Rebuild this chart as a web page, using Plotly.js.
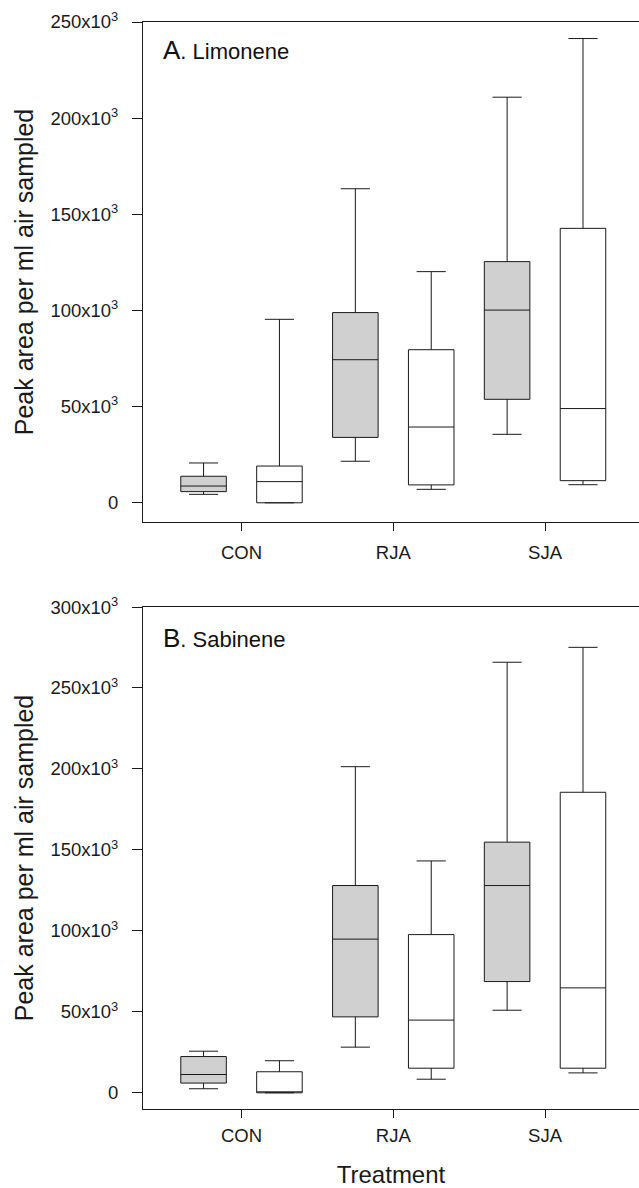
<!DOCTYPE html>
<html>
<head>
<meta charset="utf-8">
<script src="https://cdn.plot.ly/plotly-3.0.1.min.js"></script>
<style>html,body{margin:0;padding:0;background:#fff;}#chart{width:639px;height:1188px;}</style>
</head>
<body>
<div id="chart"></div>
<script>
// ---- data ----
const categories = ['CON', 'RJA', 'SJA'];

// Panel A: Limonene
const limGrayLower  = [4400, 21600, 35600];
const limGrayQ1     = [5800, 34000, 53800];
const limGrayMedian = [8700, 74400, 100200];
const limGrayQ3     = [13800, 98900, 125400];
const limGrayUpper  = [20700, 163300, 210900];

const limWhiteLower  = [0, 7000, 9400];
const limWhiteQ1     = [0, 9300, 11500];
const limWhiteMedian = [11000, 39400, 49000];
const limWhiteQ3     = [19100, 79600, 142700];
const limWhiteUpper  = [95400, 120200, 241400];

// Panel B: Sabinene
const sabGrayLower  = [2500, 28200, 51000];
const sabGrayQ1     = [6000, 46900, 68700];
const sabGrayMedian = [11300, 94900, 128000];
const sabGrayQ3     = [22400, 128000, 154800];
const sabGrayUpper  = [25700, 201400, 265900];

const sabWhiteLower  = [0, 8400, 12300];
const sabWhiteQ1     = [0, 15200, 15200];
const sabWhiteMedian = [0, 44900, 64800];
const sabWhiteQ3     = [13000, 97700, 185600];
const sabWhiteUpper  = [19800, 143200, 275100];

// tick labels
const limTickVals = [0, 50000, 100000, 150000, 200000, 250000];
const limTickText = ['0', '50x10<sup>3</sup>', '100x10<sup>3</sup>', '150x10<sup>3</sup>', '200x10<sup>3</sup>', '250x10<sup>3</sup>'];
const sabTickVals = [0, 50000, 100000, 150000, 200000, 250000, 300000];
const sabTickText = ['0', '50x10<sup>3</sup>', '100x10<sup>3</sup>', '150x10<sup>3</sup>', '200x10<sup>3</sup>', '250x10<sup>3</sup>', '300x10<sup>3</sup>'];

const panelALabel = '<span style="font-size:26px">A</span>. Limonene';
const panelBLabel = '<span style="font-size:26px">B</span>. Sabinene';
const yTitle = 'Peak area per ml air sampled';
const xTitle = 'Treatment';

// ---- styles ----
const FONT = 'Liberation Sans, Arial, Helvetica, sans-serif';
const LINE = '#1a1a1a';
const GRAY = '#d0d0d0';

function boxTrace(lower, q1, med, q3, upper, fill, xa, ya, name, agroup, ogroup) {
  return {
    type: 'box', name: name, x: categories,
    lowerfence: lower, q1: q1, median: med, q3: q3, upperfence: upper,
    fillcolor: fill, line: {color: LINE, width: 1},
    whiskerwidth: 0.64, boxpoints: false, showlegend: false,
    alignmentgroup: agroup, offsetgroup: ogroup,
    xaxis: xa, yaxis: ya, hoverinfo: 'skip'
  };
}

const data = [
  boxTrace(limGrayLower, limGrayQ1, limGrayMedian, limGrayQ3, limGrayUpper, GRAY, 'x', 'y', 'A1', 'A', 'gray'),
  boxTrace(limWhiteLower, limWhiteQ1, limWhiteMedian, limWhiteQ3, limWhiteUpper, '#ffffff', 'x', 'y', 'A2', 'A', 'white'),
  boxTrace(sabGrayLower, sabGrayQ1, sabGrayMedian, sabGrayQ3, sabGrayUpper, GRAY, 'x2', 'y2', 'B1', 'B', 'gray'),
  boxTrace(sabWhiteLower, sabWhiteQ1, sabWhiteMedian, sabWhiteQ3, sabWhiteUpper, '#ffffff', 'x2', 'y2', 'B2', 'B', 'white')
];

const xCommon = {
  type: 'category', range: [-0.649, 2.619],
  showline: true, linecolor: LINE, linewidth: 1, mirror: true,
  ticks: 'outside', ticklen: 8, tickcolor: LINE, tickwidth: 1,
  showgrid: false, zeroline: false,
  tickfont: {family: FONT, size: 18.5, color: '#1a1a1a'},
  fixedrange: true
};
const yCommon = {
  showline: true, linecolor: LINE, linewidth: 1,
  ticks: 'outside', ticklen: 10, tickcolor: LINE, tickwidth: 1,
  showgrid: false, zeroline: false, tickmode: 'array',
  tickfont: {family: FONT, size: 18.5, color: '#1a1a1a'},
  ticklabelstandoff: 10, fixedrange: true
};
const yTitleObj = {text: yTitle, font: {family: FONT, size: 25, color: '#1a1a1a'}, standoff: 9};

const layout = {
  width: 639, height: 1188,
  margin: {l: 143, r: 0, t: 22, b: 79},
  paper_bgcolor: '#fff', plot_bgcolor: '#fff',
  font: {family: FONT, color: '#1a1a1a'},
  boxmode: 'group', boxgap: 0, boxgroupgap: 0.4,
  showlegend: false,
  xaxis: Object.assign({}, xCommon, {anchor: 'y', domain: [0, 1], ticklabelstandoff: 6}),
  xaxis2: Object.assign({}, xCommon, {anchor: 'y2', domain: [0, 1], ticklabelstandoff: 2,
    title: {text: xTitle, font: {family: FONT, size: 24, color: '#1a1a1a'}, standoff: 28}}),
  yaxis: Object.assign({}, yCommon, {anchor: 'x', domain: [0.540, 1], range: [-10000, 250000],
    tickvals: limTickVals, ticktext: limTickText, title: yTitleObj}),
  yaxis2: Object.assign({}, yCommon, {anchor: 'x2', domain: [0, 0.4618], range: [-10000, 300000],
    tickvals: sabTickVals, ticktext: sabTickText, title: yTitleObj}),
  annotations: [
    {text: panelALabel, xref: 'x domain', yref: 'y domain', x: 0.036, y: 0.944,
     xanchor: 'left', yanchor: 'middle', showarrow: false,
     font: {family: FONT, size: 22, color: '#111'}},
    {text: panelBLabel, xref: 'x2 domain', yref: 'y2 domain', x: 0.036, y: 0.939,
     xanchor: 'left', yanchor: 'middle', showarrow: false,
     font: {family: FONT, size: 22, color: '#111'}}
  ]
};

Plotly.newPlot('chart', data, layout, {displayModeBar: false, staticPlot: true});
</script>
</body>
</html>
